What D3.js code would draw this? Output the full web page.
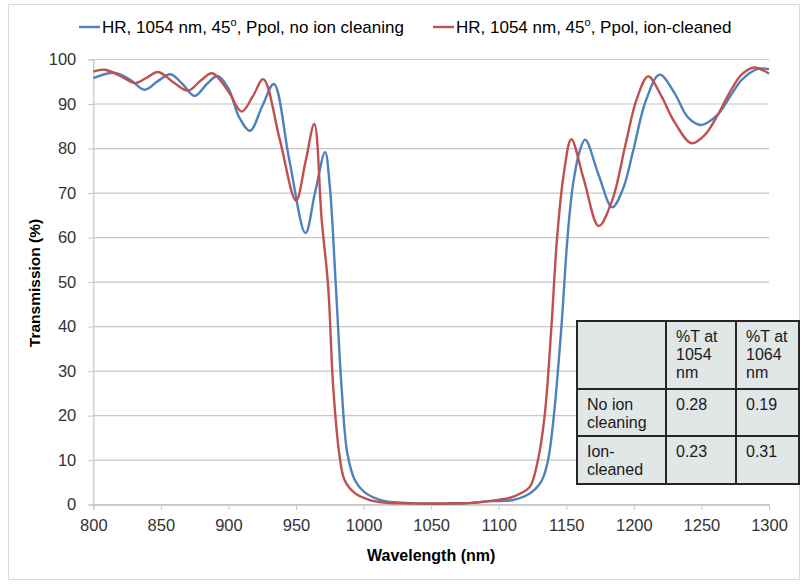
<!DOCTYPE html>
<html><head><meta charset="utf-8">
<script src="https://cdn.jsdelivr.net/npm/d3@7"></script>
<style>html,body{margin:0;padding:0;background:#fff}svg{display:block}</style>
</head><body>
<svg id="c" width="803" height="584"></svg>
<script>
// ---- data ----
const xTicks = [800, 850, 900, 950, 1000, 1050, 1100, 1150, 1200, 1250, 1300];
const yTicks = [0, 10, 20, 30, 40, 50, 60, 70, 80, 90, 100];
const seriesNames = ["HR, 1054 nm, 45", "HR, 1054 nm, 45"];
const seriesSuffix = [", Ppol, no ion cleaning", ", Ppol, ion-cleaned"];
const seriesColors = ["#4f81bd", "#c0504d"];

const blueWl = [800,816,827,838,848,857,866,875,884,892,900,908,916,925,933.6,945,957,964,971.5,975,979.5,983.7,988,993.6,1000,1010,1020,1035,1054,1064,1080,1095,1110,1120,1127,1132,1136.5,1140.8,1146.4,1150.9,1155,1160,1164,1174,1184,1192,1199.5,1208.6,1219,1230,1240,1250,1262,1269.6,1273,1280,1292,1300];
const blueT  = [95.8,97.0,95.5,93.2,95.2,96.7,94.5,91.8,94.5,96.3,93.5,87,84.0,89.5,94.5,77.5,61.0,70,79.2,71.5,49,26.5,11.5,5.5,3.0,1.3,0.6,0.35,0.28,0.19,0.4,0.8,1.0,2.0,3.5,5.5,10,20,40,60,72,79.5,82.0,74,66.8,71,79.5,90.5,96.6,92.5,87,85.3,87.6,90.9,92.5,95.5,97.9,97.8];

const redWl = [800,808.6,820,831,840,848,860,870,880,888,900,909.8,918,925.8,938,950,957,963.5,969,973.8,977.5,982,986,993.6,1004.7,1015,1030,1054,1064,1080,1095,1108,1116,1123,1129,1134,1139,1143.2,1148,1153.7,1163,1174,1184,1193.9,1202,1210.6,1220,1230,1242.6,1252,1262,1267,1273,1280,1289,1300];
const redT  = [97.3,97.7,96.3,94.7,96.0,97.2,94.7,93.0,95.4,96.9,92.8,88.3,91.7,95.6,82,68.3,77,85.5,64,49,26.5,11.5,5.5,2.6,1.05,0.5,0.3,0.23,0.31,0.4,0.9,1.5,2.5,4.0,10,20,40,60,74,82.1,73,62.6,68.4,81,91,96.2,92,86,81.2,82.9,87.5,90.4,93.7,96.7,98.2,96.8];

const tableHeader = ["", "%T at\n1054\nnm", "%T at\n1064\nnm"];
const tableRows = [["No ion\ncleaning", "0.28", "0.19"], ["Ion-\ncleaned", "0.23", "0.31"]];

const xTitle = "Wavelength (nm)";
const yTitle = "Transmission (%)";

// ---- drawing ----
const svg = d3.select("#c");
const FONT = "'Liberation Sans', Arial, sans-serif";

svg.append("rect").attr("x", 8.5).attr("y", 4.5).attr("width", 791).attr("height", 575)
  .attr("fill", "#fff").attr("stroke", "#d9d9d9").attr("stroke-width", 1);

const x = d3.scaleLinear().domain([800, 1300]).range([93.3, 769]);
const y = d3.scaleLinear().domain([0, 100]).range([504.7, 59.5]);

// gridlines
svg.append("g").selectAll("line").data(yTicks).join("line")
  .attr("x1", x(800)).attr("x2", x(1300))
  .attr("y1", d => y(d)).attr("y2", d => y(d))
  .attr("stroke", "#c6c6c6").attr("stroke-width", 1.2);

// y axis
const yAxis = svg.append("g").attr("transform", `translate(${x(800)},0)`)
  .call(d3.axisLeft(y).tickValues(yTicks).tickSize(5).tickPadding(12));
yAxis.select(".domain").attr("stroke", "#c6c6c6").attr("stroke-width", 1.2);
yAxis.selectAll(".tick line").attr("stroke", "#c6c6c6");
yAxis.selectAll("text").attr("font-family", FONT).attr("font-size", 16.5).attr("fill", "#333");

// x axis
const xAxis = svg.append("g").attr("transform", `translate(0,${y(0)})`)
  .call(d3.axisBottom(x).tickValues(xTicks).tickFormat(d3.format("d")).tickSize(5).tickPadding(10));
xAxis.select(".domain").attr("stroke", "#c6c6c6").attr("stroke-width", 1.2);
xAxis.selectAll(".tick line").attr("stroke", "#c6c6c6");
xAxis.selectAll("text").attr("font-family", FONT).attr("font-size", 16.5).attr("fill", "#333");

// lines
const line = d3.line().x(d => x(d[0])).y(d => y(d[1])).curve(d3.curveCatmullRom.alpha(0.5));
const blue = blueWl.map((w, i) => [w, blueT[i]]);
const red = redWl.map((w, i) => [w, redT[i]]);
[[blue, seriesColors[0]], [red, seriesColors[1]]].forEach(([data, col]) => {
  svg.append("path").datum(data).attr("d", line).attr("fill", "none")
    .attr("stroke", col).attr("stroke-width", 2.4).attr("stroke-linejoin", "round");
});

// titles
svg.append("text").attr("x", (x(800) + x(1300)) / 2).attr("y", 561)
  .attr("text-anchor", "middle").attr("font-family", FONT).attr("font-weight", "bold")
  .attr("font-size", 16).attr("fill", "#000").text(xTitle);
svg.append("text").attr("transform", "translate(40,283) rotate(-90)")
  .attr("text-anchor", "middle").attr("font-family", FONT).attr("font-weight", "bold")
  .attr("font-size", 15.5).attr("fill", "#000").text(yTitle);

// legend
const legX = [79, 433];
seriesNames.forEach((n, i) => {
  const g = svg.append("g");
  g.append("line").attr("x1", legX[i]).attr("x2", legX[i] + 21).attr("y1", 27).attr("y2", 27)
    .attr("stroke", seriesColors[i]).attr("stroke-width", 2.4);
  const t = g.append("text").attr("x", legX[i] + 23).attr("y", 33)
    .attr("font-family", FONT).attr("font-size", 17).attr("fill", "#000");
  t.append("tspan").text(n);
  t.append("tspan").attr("dy", -7).attr("font-size", 11).text("o");
  t.append("tspan").attr("dy", 7).text(seriesSuffix[i]);
});

// table
const colX = [577, 666, 736, 799];
const rowY = [321, 389, 436, 484];
const tg = svg.append("g");
tg.append("rect").attr("x", colX[0]).attr("y", rowY[0]).attr("width", colX[3] - colX[0]).attr("height", rowY[3] - rowY[0])
  .attr("fill", "#e1e6e6").attr("stroke", "#262626").attr("stroke-width", 2);
colX.slice(1, 3).forEach(cx => tg.append("line").attr("x1", cx).attr("x2", cx).attr("y1", rowY[0]).attr("y2", rowY[3])
  .attr("stroke", "#262626").attr("stroke-width", 2));
rowY.slice(1, 3).forEach(ry => tg.append("line").attr("x1", colX[0]).attr("x2", colX[3]).attr("y1", ry).attr("y2", ry)
  .attr("stroke", "#262626").attr("stroke-width", 2));
const allRows = [tableHeader].concat(tableRows);
allRows.forEach((row, ri) => {
  row.forEach((cell, ci) => {
    if (!cell) return;
    const t = tg.append("text").attr("font-family", FONT).attr("font-size", 16).attr("fill", "#1a1a1a");
    cell.split("\n").forEach((ln, li) => {
      t.append("tspan").attr("x", colX[ci] + 10).attr("y", rowY[ri] + 21 + li * 18).text(ln);
    });
  });
});
</script>
</body></html>
